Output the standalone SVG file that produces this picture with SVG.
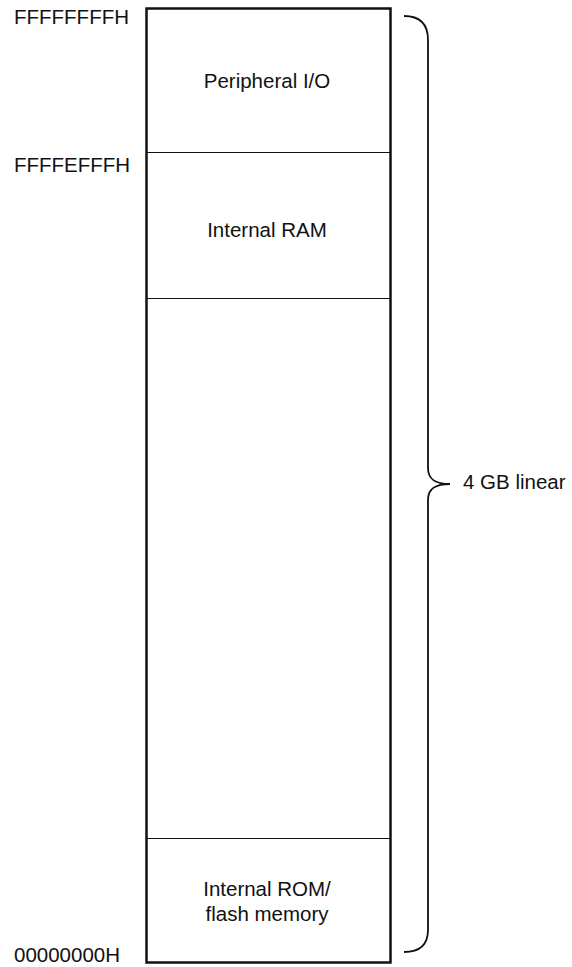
<svg xmlns="http://www.w3.org/2000/svg" width="572" height="967" viewBox="0 0 572 967">
<style>
text{font-family:"Liberation Sans",Arial,Helvetica,sans-serif;font-size:20.5px;fill:#111}
.c{text-anchor:middle}
.div{stroke:#111;stroke-width:1.2;fill:none}
</style>
<rect width="572" height="967" fill="#fff"/>
<g id="memory-map">
<rect x="146.5" y="8.5" width="244" height="954" fill="none" stroke="#111" stroke-width="2.5"/>
</g>
<g id="connectors">
<line class="div" x1="147" y1="152.5" x2="390" y2="152.5"/>
<line class="div" x1="147" y1="298.5" x2="390" y2="298.5"/>
<line class="div" x1="147" y1="838.5" x2="390" y2="838.5"/>
<path d="M404,16 Q428,16 428,40 L428,468 C428,480 436,484 450,484 C436,484 428,488 428,500 L428,930 Q428,952 404,952" fill="none" stroke="#111" stroke-width="1.8"/>
</g>
<g id="peripheral-io"><text class="c" x="267" y="88">Peripheral I/O</text></g>
<g id="internal-ram"><text class="c" x="267" y="237">Internal RAM</text></g>
<g id="internal-rom"><text class="c" x="267" y="896">Internal ROM/</text><text class="c" x="267" y="921">flash memory</text></g>
<g id="addr-top"><text x="14" y="24">FFFFFFFFH</text></g>
<g id="addr-ram"><text x="14" y="172">FFFFEFFFH</text></g>
<g id="addr-bottom"><text x="14" y="962">00000000H</text></g>
<g id="size-label"><text x="463" y="489">4 GB linear</text></g>
</svg>
